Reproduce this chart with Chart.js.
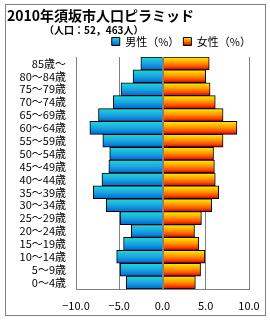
<!DOCTYPE html>
<html>
<head>
<meta charset="utf-8">
<script src="https://cdn.jsdelivr.net/npm/chart.js@4.4.1/dist/chart.umd.min.js"></script>
<style>
body { margin: 0; background: #fff; }
</style>
</head>
<body>
<canvas id="pyramid" width="270" height="320"></canvas>
<script>
var title = '2010年須坂市人口ピラミッド';
var subtitle = '（人口：52，463人）';
var ages = ['85歳～','80～84歳','75～79歳','70～74歳','65～69歳','60～64歳','55～59歳','50～54歳','45～49歳',
	'40～44歳','35～39歳','30～34歳','25～29歳','20～24歳','15～19歳','10～14歳','5～9歳','0～4歳'];
var male = [2.5, 3.4, 4.8, 5.7, 7.4, 8.4, 6.9, 6.1, 6.2, 7.0, 8.0, 6.5, 4.9, 3.6, 4.5, 5.3, 4.9, 4.2];
var female = [5.4, 5.0, 5.5, 6.1, 7.0, 8.6, 7.0, 5.9, 6.0, 6.1, 6.5, 5.7, 4.5, 3.7, 4.2, 4.9, 4.4, 3.8];
var xTicks = [-10, -5, 0, 5, 10];

var maleStops = [[0, '#22d6d6'], [0.5, '#1aa6e0'], [1, '#0066d4']];
var femaleStops = [[0, '#ffee00'], [0.45, '#ff9a00'], [0.75, '#ff4a00'], [1, '#cc0000']];

Chart.defaults.font.family = '"Noto Sans CJK JP", sans-serif';
Chart.defaults.color = '#000';

// each bar gets its own top-to-bottom gradient
function barFill(stops){
	return function(c){
		var ch = c.chart, ys = ch.scales.y;
		if(!ys || !ch.chartArea) return stops[1][1];
		var mid = ys.getPixelForValue(c.dataIndex);
		var h = ys.height / ages.length;
		var g = ch.ctx.createLinearGradient(0, mid - h/2, 0, mid + h/2);
		stops.forEach(function(s){ g.addColorStop(s[0], s[1]); });
		return g;
	};
}

function legendBox(ch, stops){
	var g = ch.ctx.createLinearGradient(0, 37, 0, 45);
	stops.forEach(function(s){ g.addColorStop(s[0], s[1]); });
	return g;
}

var frame = {
	id: 'frame',
	afterLayout: function(ch){
		// legend sits a little right of the plot edge
		ch.legend.right += 6;
	},
	beforeDraw: function(ch){
		var c = ch.ctx;
		c.save();
		c.fillStyle = '#fff';
		c.fillRect(0, 0, ch.width, ch.height);
		c.strokeStyle = '#808080';
		c.lineWidth = 1;
		c.strokeRect(5.5, 4.5, 260, 311);
		c.restore();
	},
	afterDatasetsDraw: function(ch){
		// category axis crosses at 0 and sits over the bars
		var c = ch.ctx, x = Math.round(ch.scales.x.getPixelForValue(0)) + 0.5;
		c.save();
		c.strokeStyle = '#808080';
		c.lineWidth = 1;
		c.beginPath();
		c.moveTo(x, ch.chartArea.top);
		c.lineTo(x, ch.chartArea.bottom);
		c.stroke();
		c.restore();
	},
	afterDraw: function(ch){
		var c = ch.ctx;
		c.save();
		c.fillStyle = '#000';
		c.textBaseline = 'middle';
		c.textAlign = 'left';
		c.font = 'bold 14px "Noto Sans CJK JP"';
		c.fillText(title, 7, 16);
		c.font = 'bold 10px "Noto Sans CJK JP"';
		c.fillText(subtitle, 44, 30);
		c.restore();
	}
};

var ctx = document.getElementById('pyramid');

var pyramid = new Chart(ctx, {
	type: 'bar',
	data: {
		labels: ages,
		datasets: [
			{
				label: '男性（%）',
				data: male.map(function(v){ return -v; }),
				backgroundColor: barFill(maleStops),
				borderColor: '#000',
				borderWidth: 1
			},
			{
				label: '女性（%）',
				data: female,
				backgroundColor: barFill(femaleStops),
				borderColor: '#000',
				borderWidth: 1
			}
		]
	},
	options: {
		indexAxis: 'y',
		responsive: false,
		animation: false,
		events: [],
		layout: { padding: { top: 32, left: 6, right: 21, bottom: 5 } },
		datasets: { bar: { barPercentage: 1, categoryPercentage: 1 } },
		plugins: {
			tooltip: { enabled: false },
			legend: {
				position: 'top',
				align: 'end',
				labels: {
					boxWidth: 8,
					boxHeight: 8,
					padding: 4,
					font: { size: 11 },
					generateLabels: function(ch){
						return ch.data.datasets.map(function(d, i){
							return {
								text: d.label,
								fillStyle: legendBox(ch, i ? femaleStops : maleStops),
								strokeStyle: '#000',
								lineWidth: 1,
								hidden: false,
								datasetIndex: i
							};
						});
					}
				}
			}
		},
		scales: {
			x: {
				stacked: true,
				min: -10,
				max: 10,
				afterFit: function(s){ s.height = 26; },
				afterBuildTicks: function(s){ s.ticks = xTicks.map(function(v){ return { value: v }; }); },
				ticks: {
					padding: 10,
					font: { size: 11 },
					callback: function(v){ return v.toFixed(1).replace('-', '−'); }
				},
				grid: { color: '#808080', drawTicks: false },
				border: { color: '#808080' }
			},
			y: {
				stacked: true,
				afterFit: function(s){ s.width = 70; },
				ticks: { padding: 10, autoSkip: false, font: { size: 11 } },
				grid: { display: false, drawTicks: false },
				border: { color: '#808080' }
			}
		}
	},
	plugins: [frame]
});
</script>
</body>
</html>
